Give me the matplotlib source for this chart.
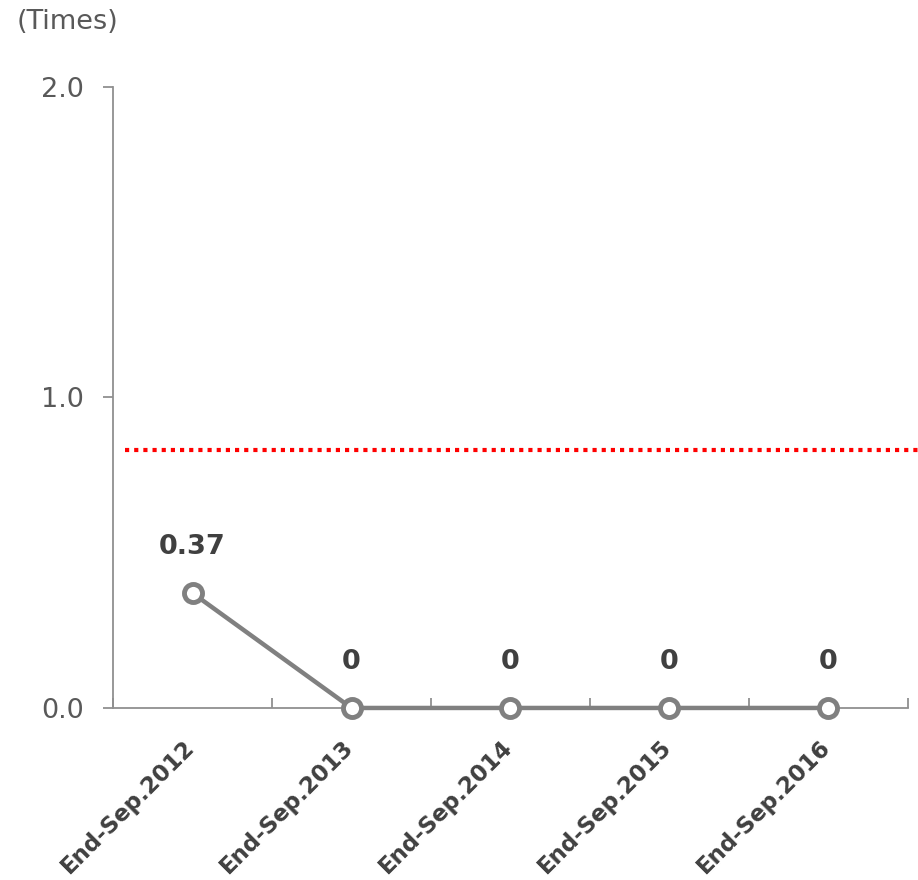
import matplotlib.pyplot as plt
from matplotlib.ticker import FixedLocator
from matplotlib.transforms import ScaledTranslation

categories = ['End-Sep.2012', 'End-Sep.2013', 'End-Sep.2014', 'End-Sep.2015', 'End-Sep.2016']
values = [0.37, 0, 0, 0, 0]
value_labels = ['0.37', '0', '0', '0', '0']
reference_level = 0.83

fig = plt.figure(figsize=(9.18, 8.8), dpi=100)
ax = fig.add_axes([0.1231, 0.1955, 0.866, 0.7056])

x = list(range(len(categories)))
ax.plot(x, values, color='#808080', linewidth=3.2, marker='o', markersize=13,
        markerfacecolor='white', markeredgecolor='#808080', markeredgewidth=3.5,
        zorder=3, clip_on=False)

for xi, v, lab in zip(x, values, value_labels):
    ax.annotate(lab, (xi, v), xytext=(0, 33), textcoords='offset points',
                ha='center', va='center', fontsize=19.5, fontweight='bold',
                color='#404040')

# red dotted reference line, runs slightly past the plot on the right
ax.axhline(reference_level, xmin=0.015, xmax=1.013, color='#FF0000',
           linestyle=(0, (1, 1.2)), linewidth=3, clip_on=False)

ax.set_xlim(-0.5, len(categories) - 0.5)
ax.set_ylim(0, 2.0)
ax.set_yticks([0.0, 1.0, 2.0])
ax.set_yticklabels(['0.0', '1.0', '2.0'])
ax.set_xticks(x)
ax.set_xticklabels([])

# category labels drawn by hand so they can be nudged left of the tick position
offset = ScaledTranslation(-0.10, -0.275, fig.dpi_scale_trans)
for xi, cat in zip(x, categories):
    ax.text(xi, 0, cat, transform=ax.get_xaxis_transform() + offset,
            rotation=45, ha='right', va='top', rotation_mode='anchor',
            fontsize=16.5, fontweight='bold', color='#404040')

ax.xaxis.set_minor_locator(FixedLocator([i - 0.5 for i in range(len(categories) + 1)]))
ax.tick_params(axis='x', which='major', length=0)
ax.tick_params(axis='x', which='minor', direction='in', length=7, color='#909090', width=1.3)
ax.tick_params(axis='y', direction='out', length=7, color='#909090', width=1.3,
               labelsize=19.5, labelcolor='#595959', pad=14)

for side in ['top', 'right']:
    ax.spines[side].set_visible(False)
for side in ['left', 'bottom']:
    ax.spines[side].set_color('#909090')
    ax.spines[side].set_linewidth(1.3)

fig.text(0.018, 0.975, '(Times)', fontsize=19.5, color='#595959', ha='left', va='center')

fig.savefig('out.png', dpi=100)
